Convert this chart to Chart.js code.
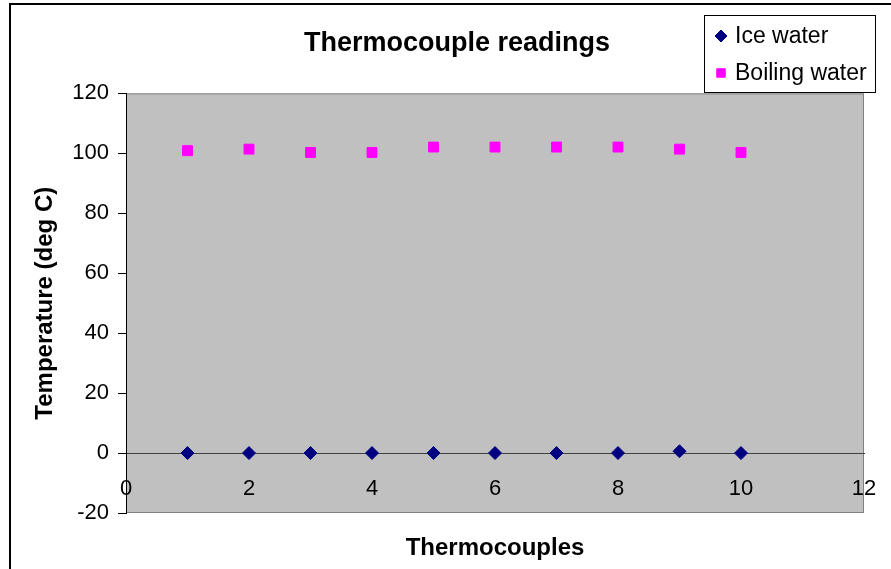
<!DOCTYPE html>
<html>
<head>
<meta charset="utf-8">
<script src="https://cdn.jsdelivr.net/npm/chart.js@4.4.1/dist/chart.umd.min.js"></script>
<style>
  html, body { margin: 0; padding: 0; background: #fff; }
  #wrap { position: relative; width: 891px; height: 569px; }
</style>
</head>
<body>
<div id="wrap"><canvas id="tcChart" width="891" height="569"></canvas></div>
<script>
// Chart data
const thermocouples = [1, 2, 3, 4, 5, 6, 7, 8, 9, 10];
const iceWater = [0, 0, 0, 0, 0, 0, 0, 0, 0.6, 0];
const boilingWater = [100.9, 101.4, 100.3, 100.3, 102.1, 102.1, 102.1, 102.1, 101.4, 100.3];
const seriesNames = ['Ice water', 'Boiling water'];
const xTicks = [0, 2, 4, 6, 8, 10, 12];
const yTicks = [-20, 0, 20, 40, 60, 80, 100, 120];

const FONT = 'Arial, "Liberation Sans", sans-serif';

// Gray plot area, outer frame and boxed legend
const excelLook = {
  id: 'excelLook',
  beforeDraw(chart) {
    const { ctx, chartArea: a } = chart;
    ctx.save();
    ctx.fillStyle = '#000';
    ctx.fillRect(9, 3, 2, chart.height);
    ctx.fillRect(9, 3, chart.width, 2);
    ctx.fillStyle = '#c0c0c0';
    ctx.fillRect(a.left, a.top, a.right - a.left, a.bottom - a.top);
    ctx.strokeStyle = '#808080';
    ctx.lineWidth = 1;
    ctx.strokeRect(a.left + 0.5, a.top + 0.5, a.right - a.left - 1, a.bottom - a.top - 1);
    ctx.restore();
  },
  afterDraw(chart) {
    const ctx = chart.ctx;
    ctx.save();
    ctx.fillStyle = '#fff';
    ctx.fillRect(704, 15, 171, 77);
    ctx.strokeStyle = '#000';
    ctx.lineWidth = 1;
    ctx.strokeRect(704.5, 15.5, 171, 77);
    ctx.font = '23px ' + FONT;
    ctx.textBaseline = 'middle';
    chart.data.datasets.forEach((ds, i) => {
      const y = 36 + i * 37;
      ctx.fillStyle = ds.backgroundColor;
      ctx.strokeStyle = ds.borderColor;
      Chart.helpers.drawPoint(ctx, {
        pointStyle: ds.pointStyle,
        radius: 6,
        rotation: 0,
        borderWidth: 1
      }, 721, y);
      ctx.fillStyle = '#000';
      ctx.fillText(ds.label, 735, y + 1);
    });
    ctx.restore();
  }
};

const ctx = document.getElementById('tcChart').getContext('2d');
const tcChart = new Chart(ctx, {
  type: 'scatter',
  data: {
    datasets: [{
      label: seriesNames[0],
      data: thermocouples.map((t, i) => ({ x: t, y: iceWater[i] })),
      pointStyle: 'rectRot',
      pointRadius: 6.5,
      backgroundColor: '#000080',
      borderColor: '#000080',
      borderWidth: 1
    }, {
      label: seriesNames[1],
      data: thermocouples.map((t, i) => ({ x: t, y: boilingWater[i] })),
      pointStyle: 'rect',
      pointRadius: 7,
      backgroundColor: '#ff00ff',
      borderColor: '#ff00ff',
      borderWidth: 1
    }]
  },
  options: {
    responsive: false,
    animation: false,
    layout: { padding: { left: 50, right: 27, top: 0, bottom: 0 } },
    plugins: {
      legend: { display: false },
      tooltip: { enabled: false },
      title: {
        display: true,
        text: 'Thermocouple readings',
        color: '#000',
        font: { family: FONT, size: 27, weight: 'bold' },
        padding: { top: 27, bottom: 34 }
      }
    },
    scales: {
      x: {
        type: 'linear',
        position: 'bottom',
        min: 0,
        max: 12,
        ticks: { display: false },
        grid: { display: false, drawTicks: false },
        border: { display: false },
        title: {
          display: true,
          text: 'Thermocouples',
          color: '#000',
          font: { family: FONT, size: 24, weight: 'bold' },
          padding: { top: 0, bottom: 6 }
        },
        afterFit: (s) => { s.height = 56; }
      },
      x2: {
        type: 'linear',
        position: { y: 0 },
        min: 0,
        max: 12,
        afterBuildTicks: (s) => { s.ticks = xTicks.map(v => ({ value: v })); },
        ticks: {
          autoSkip: false,
          maxRotation: 0,
          padding: 0,
          color: '#000',
          font: { family: FONT, size: 22 }
        },
        // invisible tick marks push the labels down below the zero line
        grid: { display: true, drawOnChartArea: false, drawTicks: true, tickLength: 23, color: 'rgba(0,0,0,0)' },
        border: { display: true, color: '#404040', width: 1 }
      },
      y: {
        min: -20,
        max: 120,
        afterBuildTicks: (s) => { s.ticks = yTicks.map(v => ({ value: v })); },
        ticks: {
          padding: 9,
          color: '#000',
          font: { family: FONT, size: 22 }
        },
        grid: { drawOnChartArea: false, drawTicks: true, tickLength: 8, color: '#000' },
        border: { display: true, color: '#000', width: 1 },
        title: {
          display: true,
          text: 'Temperature (deg C)',
          color: '#000',
          font: { family: FONT, size: 24, weight: 'bold' },
          padding: { top: -19, bottom: 0 }
        },
        afterFit: (s) => { s.width = 76; }
      }
    }
  },
  plugins: [excelLook]
});
</script>
</body>
</html>
